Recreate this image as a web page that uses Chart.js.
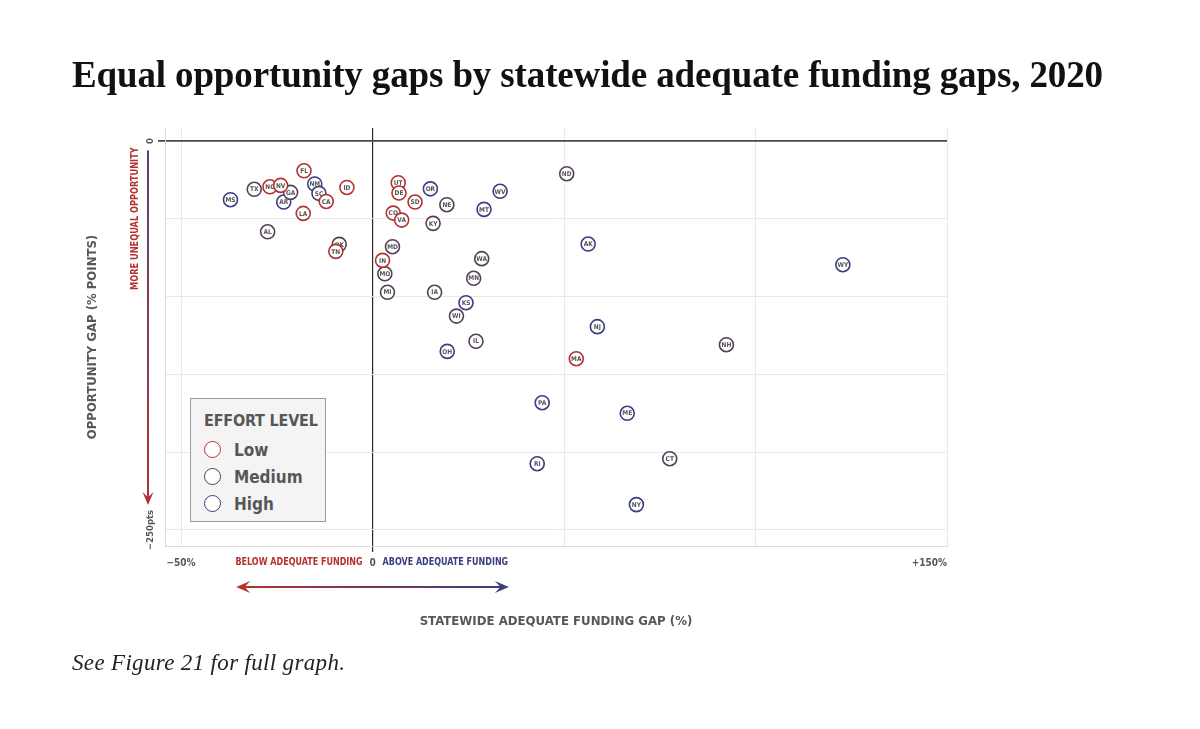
<!DOCTYPE html>
<html>
<head>
<meta charset="utf-8">
<script src="https://cdn.jsdelivr.net/npm/chart.js@4.4.1/dist/chart.umd.min.js"></script>
<style>
  html, body { margin: 0; padding: 0; background: #fff; }
  #wrap { position: relative; width: 1200px; height: 729px; overflow: hidden; }
  #chartBox { position: absolute; left: 0; top: 0; width: 1200px; height: 729px; }
  #title {
    position: absolute; left: 72px; top: 56px; margin: 0;
    font-family: "Liberation Serif", "DejaVu Serif", serif; font-weight: bold;
    font-size: 37px; line-height: 37px; color: #111; white-space: nowrap;
  }
  #caption {
    position: absolute; left: 72px; top: 651px; margin: 0;
    font-family: "Liberation Serif", "DejaVu Serif", serif; font-style: italic;
    font-size: 23px; line-height: 24px; color: #222; white-space: nowrap;
  }
  #legend {
    position: absolute; left: 190px; top: 398px; width: 134px; height: 122px;
    background: #f4f4f4; border: 1px solid #9c9c9c;
    font-family: "DejaVu Sans Condensed", "DejaVu Sans", sans-serif;
    color: #575757; white-space: nowrap;
  }
  #legend .head { position: absolute; left: 13px; top: 12px; font-weight: bold; font-size: 16px; line-height: 20px; letter-spacing: -0.2px; }
  #legend .item { position: absolute; left: 13px; height: 20px; font-weight: bold; font-size: 17px; line-height: 20px; }
  #legend .dot { position: absolute; left: 0; top: 1px; width: 15px; height: 15px; border-radius: 50%; border: 1.6px solid; background: #fff; }
  #legend .txt { position: absolute; left: 30px; top: 0; }
</style>
</head>
<body>
<div id="wrap">
  <div id="chartBox"><canvas id="gapChart"></canvas></div>
  <h1 id="title">Equal opportunity gaps by statewide adequate funding gaps, 2020</h1>
  <div id="legend"></div>
  <p id="caption">See Figure 21 for full graph.</p>
</div>
<script>
// state points
const states = ['FL','NM','SC','CA','ID','TX','NC','NV','GA','AR','LA','MS','AL','OK','TN',
  'UT','DE','SD','OR','NE','MT','WV','CO','VA','KY','MD','IN','MO','MI','IA','WA','MN','KS','WI','IL','OH',
  'ND','AK','WY','NJ','NH','MA','PA','ME','RI','CT','NY'];
const fundingGap = [-17.9,-15.1,-14.0,-12.1,-6.7,-30.9,-26.8,-24.0,-21.4,-23.2,-18.1,-37.1,-27.4,-8.7,-9.6,
  6.7,6.9,11.1,15.1,19.4,29.1,33.3,5.4,7.6,15.8,5.2,2.6,3.2,3.9,16.2,28.5,26.4,24.4,21.9,27.0,19.5,
  50.7,56.3,122.8,58.7,92.4,53.2,44.3,66.5,43.0,77.6,68.9];
const opportunityGap = [-19.1,-27.6,-33.6,-38.8,-29.8,-31.0,-29.4,-28.5,-33.0,-39.2,-46.5,-37.7,-58.3,-66.4,-70.9,
  -26.8,-33.4,-39.2,-30.7,-40.9,-43.9,-32.3,-46.3,-50.8,-52.9,-67.9,-76.7,-85.3,-97.2,-97.2,-75.6,-88.2,-103.9,-112.5,-128.7,-135.2,
  -21.0,-66.2,-79.5,-119.3,-130.9,-139.9,-168.2,-175.0,-207.4,-204.2,-233.7];
const effort = ['Low','High','High','Low','Low','Medium','Low','Low','Medium','High','Low','High','Medium','Medium','Low',
  'Low','Low','Low','High','Medium','High','High','Low','Low','Medium','Medium','Low','Medium','Medium','Medium','Medium','Medium','High','Medium','Medium','High',
  'Medium','High','High','High','Medium','Low','High','High','High','Medium','High'];

const effortLevels = ['Low', 'Medium', 'High'];
const effortColors = ['#b3322f', '#553f5a', '#3a3e80'];

const xMin = -54.2, xMax = 150, yMin = -260.3, yMax = 8.4;
const xGridValues = [xMin, -50, 0, 50, 100, 150];
const xTickValues = [-50, 0, 150];
const xTickText = ['\u221250%', '0', '+150%'];
const yGridValues = [0, -50, -100, -150, -200, -250];
const yTickValues = [0, -250];
const yTickText = ['0', '\u2212250pts'];

const SANS = '"DejaVu Sans Condensed", "DejaVu Sans", sans-serif';
const RED = '#b3322f', NAVY = '#3a3e80', GREY = '#575757';

const datasets = effortLevels.map((lvl, k) => ({
  label: lvl,
  data: states.map((s, i) => ({ x: fundingGap[i], y: opportunityGap[i], s }))
              .filter((p, i) => effort[i] === lvl),
  pointStyle: 'circle',
  pointRadius: 7,
  pointBorderWidth: 1.6,
  pointBackgroundColor: '#fff',
  pointBorderColor: effortColors[k],
  backgroundColor: '#fff',
  borderColor: effortColors[k]
}));

// legend built from the datasets
const legend = document.getElementById('legend');
legend.innerHTML = '<div class="head">EFFORT LEVEL</div>' + datasets.map((d, i) =>
  `<div class="item" style="top:${41 + i * 27}px"><span class="dot" style="border-color:${d.borderColor}"></span><span class="txt">${d.label}</span></div>`
).join('');

const stateLabels = {
  id: 'stateLabels',
  afterDatasetDraw(chart, args) {
    const ctx = chart.ctx;
    const ds = chart.data.datasets[args.index];
    ctx.save();
    ctx.font = 'bold 6.5px ' + SANS;
    ctx.fillStyle = '#555';
    ctx.textAlign = 'center';
    ctx.textBaseline = 'middle';
    args.meta.data.forEach((pt, i) => ctx.fillText(ds.data[i].s, pt.x, pt.y + 0.5));
    ctx.restore();
  }
};

function arrowHead(ctx, tipX, tipY, dx, dy, len, half, color) {
  ctx.fillStyle = color;
  ctx.beginPath();
  ctx.moveTo(tipX, tipY);
  ctx.lineTo(tipX - dx * len - dy * half, tipY - dy * len + dx * half);
  ctx.lineTo(tipX - dx * len * 0.6, tipY - dy * len * 0.6);
  ctx.lineTo(tipX - dx * len + dy * half, tipY - dy * len - dx * half);
  ctx.closePath();
  ctx.fill();
}

// condensed-looking text: squeeze along the writing direction
function squeezedText(ctx, text, x, y, sx, align) {
  ctx.save();
  ctx.translate(x, y);
  ctx.scale(sx, 1);
  ctx.textAlign = align;
  ctx.fillText(text, 0, 0);
  ctx.restore();
}

const annotations = {
  id: 'annotations',
  afterDraw(chart) {
    const { ctx, chartArea } = chart;
    const xs = chart.scales.x, ys = chart.scales.y;
    ctx.save();

    // vertical arrow: more unequal opportunity
    const ax = chartArea.left - 17;
    const yTop = ys.getPixelForValue(-6), yTip = ys.getPixelForValue(-234);
    let g = ctx.createLinearGradient(0, yTop, 0, yTip);
    g.addColorStop(0, '#5d3f78');
    g.addColorStop(1, RED);
    ctx.strokeStyle = g;
    ctx.lineWidth = 2;
    ctx.beginPath(); ctx.moveTo(ax, yTop); ctx.lineTo(ax, yTip - 8); ctx.stroke();
    arrowHead(ctx, ax, yTip, 0, 1, 13, 5.5, RED);

    ctx.save();
    ctx.translate(chartArea.left - 30, ys.getPixelForValue(-4));
    ctx.rotate(-Math.PI / 2);
    ctx.font = 'bold 10.5px ' + SANS;
    ctx.fillStyle = RED;
    ctx.textBaseline = 'middle';
    squeezedText(ctx, 'MORE UNEQUAL OPPORTUNITY', 0, 0, 0.87, 'right');
    ctx.restore();

    // horizontal arrow: below / above adequate funding
    const zx = xs.getPixelForValue(0);
    const ly = chartArea.bottom + 16;
    ctx.font = 'bold 11px ' + SANS;
    ctx.textBaseline = 'middle';
    ctx.fillStyle = RED;
    squeezedText(ctx, 'BELOW ADEQUATE FUNDING', zx - 10, ly, 0.81, 'right');
    ctx.fillStyle = NAVY;
    squeezedText(ctx, 'ABOVE ADEQUATE FUNDING', zx + 10, ly, 0.81, 'left');

    const ay = chartArea.bottom + 41;
    const xl = xs.getPixelForValue(-35.6), xr = xs.getPixelForValue(35.6);
    g = ctx.createLinearGradient(xl, 0, xr, 0);
    g.addColorStop(0, RED);
    g.addColorStop(1, NAVY);
    ctx.strokeStyle = g;
    ctx.lineWidth = 2;
    ctx.beginPath(); ctx.moveTo(xl + 8, ay); ctx.lineTo(xr - 8, ay); ctx.stroke();
    arrowHead(ctx, xl, ay, -1, 0, 14, 6, RED);
    arrowHead(ctx, xr, ay, 1, 0, 14, 6, NAVY);

    ctx.restore();
  }
};

new Chart(document.getElementById('gapChart'), {
  type: 'scatter',
  data: { datasets },
  plugins: [stateLabels, annotations],
  options: {
    responsive: true,
    maintainAspectRatio: false,
    animation: false,
    events: [],
    layout: { padding: { left: 0, top: 128, right: 253, bottom: 0 } },
    plugins: { legend: { display: false }, tooltip: { enabled: false } },
    scales: {
      x: {
        type: 'linear', min: xMin, max: xMax,
        afterFit: s => { s.height = 183; },
        afterBuildTicks: s => { s.ticks = xGridValues.map(v => ({ value: v })); },
        grid: {
          color: c => !c.tick ? '#e9e9e9' : c.tick.value === 0 ? '#2b2b2b' : c.tick.value === xMin ? 'rgba(0,0,0,0)' : '#e9e9e9',
          lineWidth: c => c.tick && c.tick.value === 0 ? 1.2 : 1,
          tickColor: c => c.tick && c.tick.value === 0 ? '#2b2b2b' : 'rgba(0,0,0,0)',
          tickLength: 6
        },
        border: { display: true, color: '#dcdcdc' },
        ticks: {
          padding: 5,
          maxRotation: 0,
          align: 'inner',
          color: GREY,
          font: { family: SANS, size: 10, weight: 'bold' },
          callback: v => { const i = xTickValues.indexOf(v); return i < 0 ? '' : xTickText[i]; }
        },
        title: {
          display: true,
          text: 'STATEWIDE ADEQUATE FUNDING GAP (%)',
          color: GREY,
          font: { family: SANS, size: 13.1, weight: 'bold' },
          padding: { top: 0, bottom: 100 }
        }
      },
      y: {
        type: 'linear', min: yMin, max: yMax,
        afterFit: s => { s.width = 165; },
        afterBuildTicks: s => { s.ticks = yGridValues.map(v => ({ value: v })); },
        grid: {
          color: c => c.tick && c.tick.value === 0 ? '#4a4a4a' : '#e9e9e9',
          lineWidth: c => c.tick && c.tick.value === 0 ? 1.8 : 1,
          tickColor: c => c.tick && c.tick.value === 0 ? '#4a4a4a' : 'rgba(0,0,0,0)',
          tickLength: 7
        },
        border: { display: true, color: '#dcdcdc' },
        ticks: {
          minRotation: 90,
          maxRotation: 90,
          crossAlign: 'center',
          padding: -13,
          color: GREY,
          font: { family: SANS, size: 9.5, weight: 'bold' },
          callback: v => { const i = yTickValues.indexOf(v); return i < 0 ? '' : yTickText[i]; }
        },
        title: {
          display: true,
          text: 'OPPORTUNITY GAP (% POINTS)',
          color: GREY,
          font: { family: SANS, size: 13, weight: 'bold' },
          padding: { top: 85, bottom: 0 }
        }
      }
    }
  }
});

// stretch title/caption spacing to the reference widths
function fitWidth(id, target) {
  const el = document.getElementById(id);
  el.style.letterSpacing = '0px';
  const w = el.getBoundingClientRect().width;
  el.style.letterSpacing = ((target - w) / (el.textContent.length - 1)) + 'px';
}
fitWidth('title', 1031);
fitWidth('caption', 273);
</script>
</body>
</html>
